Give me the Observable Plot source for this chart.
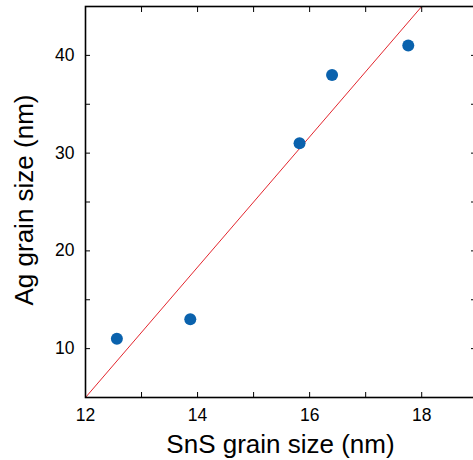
<!DOCTYPE html>
<html><head><meta charset="utf-8">
<script src="https://cdn.jsdelivr.net/npm/d3@7"></script>
<script src="https://cdn.jsdelivr.net/npm/@observablehq/plot@0.6"></script>
<style>html,body{margin:0;padding:0;background:#fff} svg{display:block}</style>
</head><body><div id="chart"></div>
<script>
const snsSize = [12.56, 13.87, 15.82, 16.40, 17.76];
const agSize = [11, 13, 31, 38, 41];
const fitX = [12, 18];
const fitY = [5, 45];
const xMinorTicks = [12, 13, 14, 15, 16, 17, 18];
const xLabelTicks = [12, 14, 16, 18];
const yMinorTicks = [10, 15, 20, 25, 30, 35, 40];
const yLabelTicks = [10, 20, 30, 40];
const xLabel = "SnS grain size (nm)";
const yLabel = "Ag grain size (nm)";

const points = snsSize.map((x, i) => ({x, y: agSize[i]}));
const fit = fitX.map((x, i) => ({x, y: fitY[i]}));

const chart = Plot.plot({
  width: 473,
  height: 460,
  marginLeft: 85,
  marginRight: -2,
  marginTop: 6,
  marginBottom: 63,
  x: {domain: [12, 18.96]},
  y: {domain: [5, 45]},
  style: {fontFamily: "'Liberation Sans', Arial, sans-serif", background: "white", color: "black"},
  marks: [
    Plot.line(fit, {x: "x", y: "y", stroke: "#e3262e", strokeWidth: 1}),
    Plot.dot(points, {x: "x", y: "y", r: 6, fill: "#0a62ad", stroke: "none"}),
    Plot.axisX({anchor: "bottom", ticks: xMinorTicks, tickSize: -5, text: null, label: null}),
    Plot.axisX({anchor: "top", ticks: xMinorTicks, tickSize: -5, text: null, label: null}),
    Plot.axisX({anchor: "bottom", ticks: xLabelTicks, tickSize: 0, tickPadding: 11, fontSize: 17.5, label: null, tickFormat: d => String(d)}),
    Plot.axisY({anchor: "left", ticks: yMinorTicks, tickSize: -5, text: null, label: null}),
    Plot.axisY({anchor: "right", ticks: yMinorTicks, tickSize: -5, text: null, label: null}),
    Plot.axisY({anchor: "left", ticks: yLabelTicks, tickSize: 0, tickPadding: 11, fontSize: 17.5, label: null, tickFormat: d => String(d)}),
    Plot.frame({stroke: "black", strokeWidth: 1.6}),
    Plot.text([xLabel], {text: d => d, frameAnchor: "bottom", dy: 55, textAnchor: "middle", lineAnchor: "bottom", fontSize: 26}),
    Plot.text([yLabel], {text: d => d, frameAnchor: "left", dx: -53, dy: -2, rotate: -90, textAnchor: "middle", lineAnchor: "bottom", fontSize: 26})
  ]
});
document.getElementById("chart").appendChild(chart);
</script>
</body></html>
